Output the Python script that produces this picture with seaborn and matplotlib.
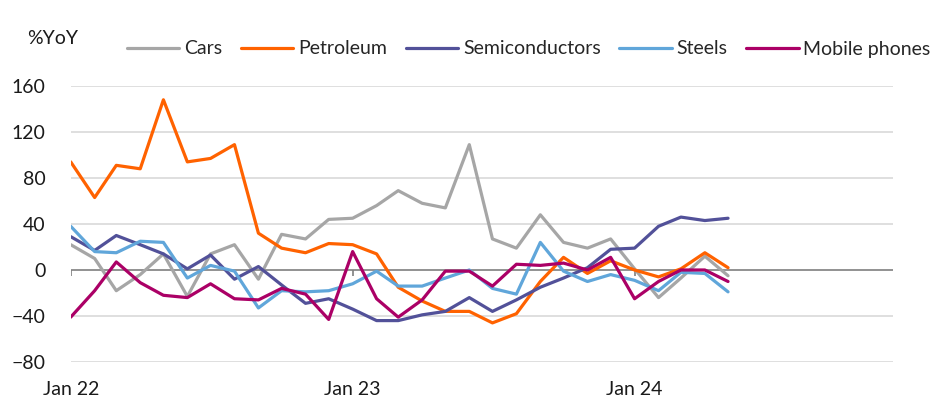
import numpy as np
import pandas as pd
import matplotlib
matplotlib.use("Agg")
import matplotlib.pyplot as plt
import seaborn as sns

# monthly %YoY, Jan 22 .. May 24
months = pd.date_range("2022-01-01", periods=29, freq="MS")
cars = [22, 10, -18, -4, 14, -23, 14, 22, -8, 31, 27, 44, 45,
        56, 69, 58, 54, 109, 27, 19, 48, 24, 19, 27, 1, -24, -7, 12, -5]
petroleum = [94, 63, 91, 88, 148, 94, 97, 109, 32, 19, 15, 23, 22,
             14, -15, -27, -36, -36, -46, -38, -10, 11, -3, 8, 0, -6, 1, 15, 2]
semis = [29, 17, 30, 22, 14, 1, 13, -8, 3, -13, -29, -25, -34,
         -44, -44, -39, -36, -24, -36, -26, -15, -7, 2, 18, 19, 38, 46, 43, 45]
steels = [38, 16, 15, 25, 24, -7, 4, -1, -33, -18, -19, -18, -12,
          -1, -14, -14, -7, 0, -16, -21, 24, -1, -10, -4, -9, -18, -2, -3, -19]
phones = [-41, -18, 7, -11, -22, -24, -12, -25, -26, -16, -21, -43, 16,
          -25, -41, -26, -1, -1, -14, 5, 4, 6, 0, 11, -25, -10, 0, 0, -10]

names = ["Cars", "Petroleum", "Semiconductors", "Steels", "Mobile phones"]
colors = ["#a6a6a6", "#ff6200", "#525199", "#60a6da", "#ab0066"]

df = pd.DataFrame({"month": months, "Cars": cars, "Petroleum": petroleum,
                   "Semiconductors": semis, "Steels": steels,
                   "Mobile phones": phones})
long = df.melt(id_vars="month", var_name="series", value_name="yoy")

sns.set_style("white")
plt.rcParams["font.family"] = ["Lato", "DejaVu Sans"]

fig = plt.figure(figsize=(9.53, 4.17), dpi=100)
ax = fig.add_axes([0.0742, 0.1319, 0.8632, 0.6619])

for v in [-80, -40, 40, 80, 120, 160]:
    ax.axhline(v, color="#d9d9d9", lw=1.2, zorder=0)
ax.axhline(0, color="#7f7f7f", lw=1.2, zorder=1)

ticks = pd.to_datetime(["2022-01-01", "2023-01-01", "2024-01-01"])
ax.vlines(ticks, -5, 0, color="#7f7f7f", lw=1.2, zorder=1)

sns.lineplot(data=long, x="month", y="yoy", hue="series", hue_order=names,
             palette=colors, lw=2.3, ax=ax, legend=False, zorder=3)

ax.set_xlim(pd.Timestamp("2022-01-01"), pd.Timestamp("2024-12-01"))
ax.set_ylim(-80, 160)
ax.set_yticks([-80, -40, 0, 40, 80, 120, 160])
ax.set_xticks(ticks)
ax.set_xticklabels(["Jan 22", "Jan 23", "Jan 24"])
ax.tick_params(axis="both", length=0, labelsize=14, colors="#1a1a1a")
ax.tick_params(axis="x", pad=14)
ax.tick_params(axis="y", pad=18)
ax.set_xlabel("")
ax.set_ylabel("")
sns.despine(ax=ax, left=True, bottom=True)

handles = [plt.Line2D([], [], color=c, lw=2.3) for c in colors]
fig.legend(handles, names, loc="center left", bbox_to_anchor=(127 / 953, 1 - 49 / 417),
           ncol=5, frameon=False, fontsize=14, handlelength=2.7,
           handletextpad=0.25, columnspacing=0.95, borderpad=0, borderaxespad=0)
fig.text(27 / 953, 1 - 38 / 417, "%YoY", fontsize=14, va="center", ha="left",
         color="#1a1a1a")

fig.savefig("out.png", dpi=100)
